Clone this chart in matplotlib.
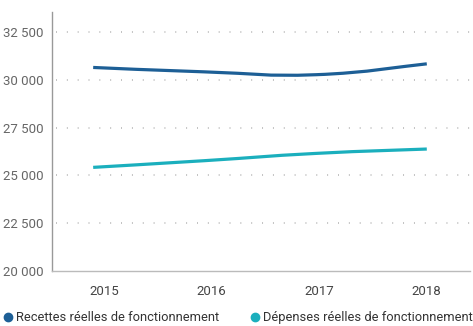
import numpy as np
import matplotlib
matplotlib.use("Agg")
import matplotlib.pyplot as plt
from matplotlib.path import Path
from matplotlib.patches import PathPatch
from matplotlib.lines import Line2D

years = ["2015", "2016", "2017", "2018"]
recettes = [30650, 30420, 30270, 30840]
depenses = [25420, 25770, 26150, 26380]
yticks = [20000, 22500, 25000, 27500, 30000, 32500]
series_names = ["Recettes réelles de fonctionnement", "Dépenses réelles de fonctionnement"]

col_rec = "#1d5f96"
col_dep = "#1bafbd"

plt.rcParams["font.family"] = ["Roboto", "DejaVu Sans"]


def smooth_path(xs, ys, t=0.35):
    # cardinal spline as cubic bezier segments
    xs = np.asarray(xs, float)
    ys = np.asarray(ys, float)
    n = len(xs)
    verts = [(xs[0], ys[0])]
    codes = [Path.MOVETO]
    for i in range(n - 1):
        i0 = max(i - 1, 0)
        i3 = min(i + 2, n - 1)
        d1 = ((xs[i + 1] - xs[i0]) * t, (ys[i + 1] - ys[i0]) * t)
        d2 = ((xs[i3] - xs[i]) * t, (ys[i3] - ys[i]) * t)
        if i == 0:
            d1 = ((xs[1] - xs[0]) * t, (ys[1] - ys[0]) * t)
        if i == n - 2:
            d2 = ((xs[i + 1] - xs[i]) * t, (ys[i + 1] - ys[i]) * t)
        verts += [(xs[i] + d1[0] * 2 / 3, ys[i] + d1[1] * 2 / 3),
                  (xs[i + 1] - d2[0] * 2 / 3, ys[i + 1] - d2[1] * 2 / 3),
                  (xs[i + 1], ys[i + 1])]
        codes += [Path.CURVE4] * 3
    return Path(verts, codes)


fig = plt.figure(figsize=(4.73, 3.26), dpi=100)
ax = fig.add_axes([0.11, 0.169, 0.884, 0.794])

x = np.arange(len(years))
for vals, c in [(recettes, col_rec), (depenses, col_dep)]:
    ax.add_patch(PathPatch(smooth_path(x, vals), fill=False, edgecolor=c,
                           lw=2.3, capstyle="butt", zorder=3))

ax.set_xlim(-0.37, 3.39)
ax.set_ylim(20000, 33550)
# category labels sit a little inside the first/last points
ax.set_xticks(np.linspace(0.1, 3.0, len(years)))
ax.set_xticklabels(years, fontsize=9.5, color="#444444")
ax.set_yticks(yticks)
ax.set_yticklabels([f"{v:,}".replace(",", " ") for v in yticks], fontsize=9.5, color="#666666")
ax.tick_params(length=0, pad=6)
ax.tick_params(axis="x", pad=10)

for v in yticks[1:]:
    ax.plot([-0.33, 3.39], [v, v], color="#aaaaaa", lw=1.1, ls=(0, (0.6, 6.5)), zorder=1)

for s in ["top", "right"]:
    ax.spines[s].set_visible(False)
ax.spines["left"].set_color("#999999")
ax.spines["bottom"].set_color("#bbbbbb")
ax.spines["left"].set_linewidth(1)
ax.spines["bottom"].set_linewidth(1)

handles = [Line2D([], [], ls="", marker="o", ms=6, color=col_rec),
           Line2D([], [], ls="", marker="o", ms=6, color=col_dep)]
fig.legend(handles, series_names, loc="lower left", bbox_to_anchor=(-0.024, -0.03),
           ncol=2, frameon=False, fontsize=9.3, handletextpad=0.0,
           columnspacing=2.2, labelcolor="#333333", handlelength=1.2)

fig.savefig("out.png", dpi=100)
